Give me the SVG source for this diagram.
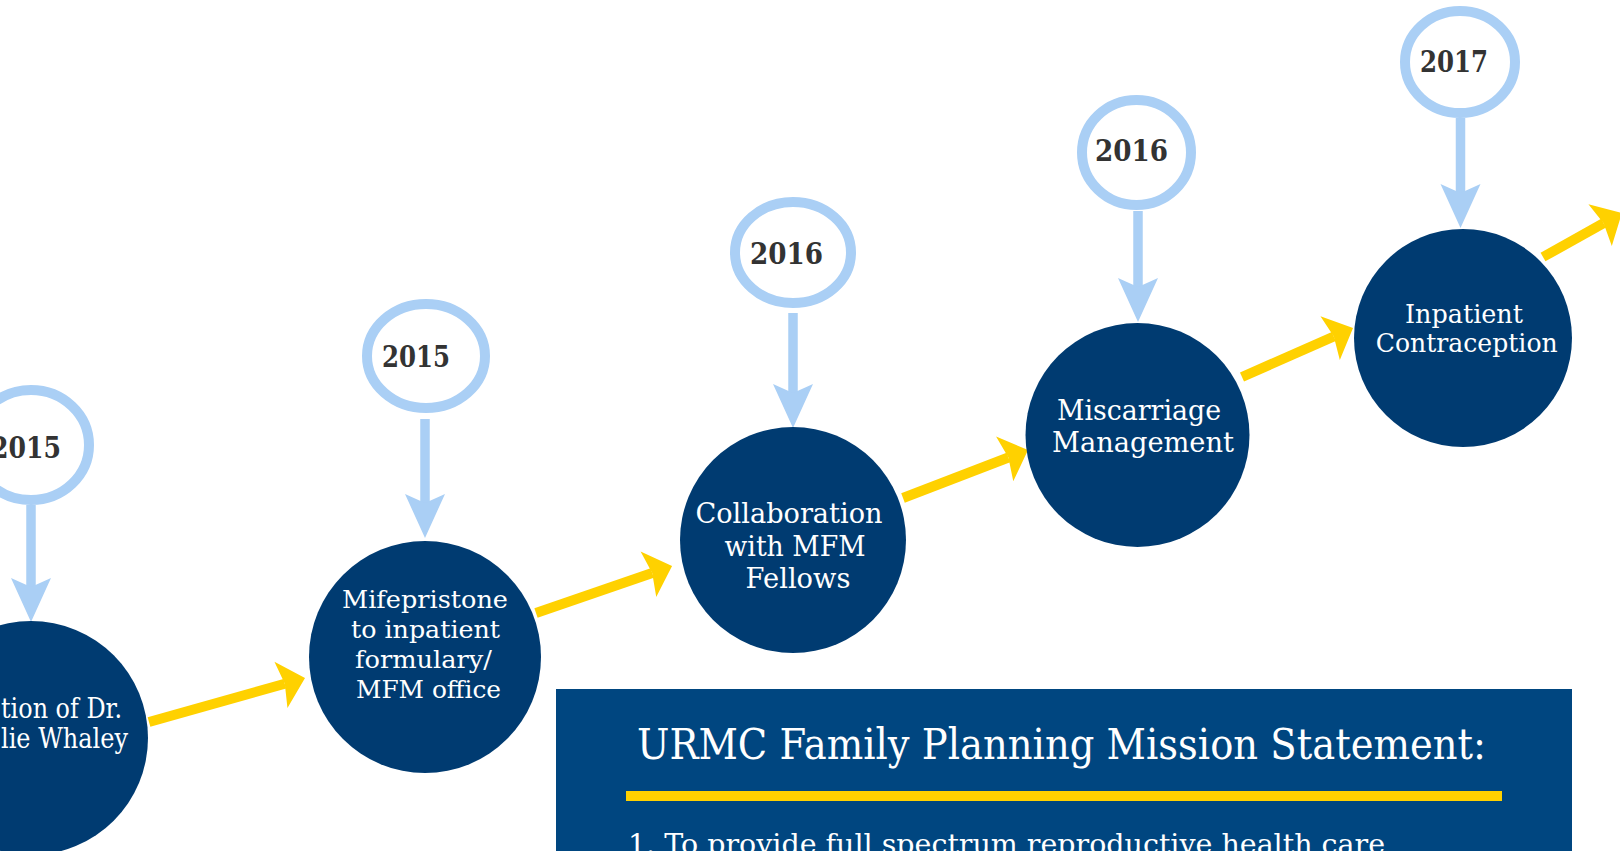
<svg xmlns="http://www.w3.org/2000/svg" width="1620" height="851" viewBox="0 0 1620 851">
<style>
.year{fill:#ffffff;stroke:#aacff5;stroke-width:10}
.ytxt{font-family:"DejaVu Serif","Liberation Serif",serif;font-weight:bold;font-size:29px;fill:#333333;text-anchor:middle}
.node{fill:#003b71}
.ntxt{font-family:"DejaVu Serif","Liberation Serif",serif;fill:#ffffff;text-anchor:middle}
.stem{stroke:#aacff5;stroke-width:9.5;fill:none;marker-end:url(#barrow)}
.flow{stroke:#ffd100;stroke-width:10;fill:none;marker-end:url(#yarrow)}
.btxt{font-family:"DejaVu Serif","Liberation Serif",serif;fill:#ffffff}
</style>
<defs>
<marker id="barrow" markerUnits="userSpaceOnUse" viewBox="-44 -20 44 40" markerWidth="44" markerHeight="40" refX="-35" refY="0" orient="auto" overflow="visible">
<path d="M0,0 L-44,-20 L-35,0 L-44,20 Z" fill="#aacff5"/>
</marker>
<marker id="yarrow" markerUnits="userSpaceOnUse" viewBox="-25 -24 25 48" markerWidth="25" markerHeight="48" refX="-21" refY="0" orient="auto" overflow="visible">
<path d="M0,0 L-25,-24 L-21,0 L-25,24 Z" fill="#ffd100"/>
</marker>
</defs>
<rect width="1620" height="851" fill="#ffffff"/>

<g id="connectors">
<path class="stem" d="M31,505 L31,587"/>
<path class="stem" d="M425,419 L425,503"/>
<path class="stem" d="M793,313 L793,393"/>
<path class="stem" d="M1138,211 L1138,287"/>
<path class="stem" d="M1460.5,118 L1460.5,193"/>
<path class="flow" d="M149,722 L284.8,683.7"/>
<path class="flow" d="M536,613 L652.2,572.9"/>
<path class="flow" d="M903,498 L1008.4,457.5"/>
<path class="flow" d="M1242,377 L1333.8,336.5"/>
<path class="flow" d="M1543,257 L1603.6,223.2"/>
</g>

<g id="year-2015a">
<ellipse class="year" cx="31" cy="445" rx="58" ry="55"/>
<text class="ytxt" x="26" y="458" textLength="70" lengthAdjust="spacingAndGlyphs">2015</text>
</g>
<g id="year-2015b">
<ellipse class="year" cx="426" cy="356" rx="59" ry="52"/>
<text class="ytxt" x="416" y="367" textLength="68" lengthAdjust="spacingAndGlyphs">2015</text>
</g>
<g id="year-2016a">
<ellipse class="year" cx="793" cy="252.5" rx="58" ry="50.5"/>
<text class="ytxt" x="786.5" y="264" textLength="73" lengthAdjust="spacingAndGlyphs">2016</text>
</g>
<g id="year-2016b">
<ellipse class="year" cx="1136.5" cy="152.5" rx="54.5" ry="52.5"/>
<text class="ytxt" x="1131.5" y="161" textLength="73" lengthAdjust="spacingAndGlyphs">2016</text>
</g>
<g id="year-2017">
<ellipse class="year" cx="1460" cy="62" rx="55" ry="51"/>
<text class="ytxt" x="1454" y="72" textLength="68" lengthAdjust="spacingAndGlyphs">2017</text>
</g>

<g id="node-whaley">
<circle class="node" cx="31" cy="738" r="117"/>
<text class="ntxt" style="text-anchor:start;font-size:27px" x="1" y="718" textLength="121" lengthAdjust="spacingAndGlyphs">tion of Dr.</text>
<text class="ntxt" style="text-anchor:start;font-size:27px" x="1" y="748" textLength="127" lengthAdjust="spacingAndGlyphs">lie Whaley</text>
</g>
<g id="node-mifepristone">
<circle class="node" cx="425" cy="657" r="116"/>
<text class="ntxt" font-size="25" x="425" y="608" textLength="166" lengthAdjust="spacingAndGlyphs">Mifepristone</text>
<text class="ntxt" font-size="25" x="425.5" y="638" textLength="149" lengthAdjust="spacingAndGlyphs">to inpatient</text>
<text class="ntxt" font-size="25" x="423.5" y="668" textLength="137" lengthAdjust="spacingAndGlyphs">formulary/</text>
<text class="ntxt" font-size="25" x="428.5" y="698" textLength="145" lengthAdjust="spacingAndGlyphs">MFM office</text>
</g>
<g id="node-collaboration">
<circle class="node" cx="793" cy="540" r="113"/>
<text class="ntxt" font-size="27" x="789" y="523" textLength="187" lengthAdjust="spacingAndGlyphs">Collaboration</text>
<text class="ntxt" font-size="27" x="795" y="556" textLength="141" lengthAdjust="spacingAndGlyphs">with MFM</text>
<text class="ntxt" font-size="27" x="798" y="588" textLength="105" lengthAdjust="spacingAndGlyphs">Fellows</text>
</g>
<g id="node-miscarriage">
<circle class="node" cx="1137.5" cy="435" r="112"/>
<text class="ntxt" font-size="27" x="1139" y="420" textLength="164" lengthAdjust="spacingAndGlyphs">Miscarriage</text>
<text class="ntxt" font-size="27" x="1143" y="452" textLength="182" lengthAdjust="spacingAndGlyphs">Management</text>
</g>
<g id="node-inpatient">
<circle class="node" cx="1463" cy="338" r="109"/>
<text class="ntxt" font-size="25.5" x="1464" y="323" textLength="118" lengthAdjust="spacingAndGlyphs">Inpatient</text>
<text class="ntxt" font-size="25.5" x="1466.7" y="352" textLength="182" lengthAdjust="spacingAndGlyphs">Contraception</text>
</g>

<g id="mission-box">
<rect x="556" y="689" width="1016" height="200" fill="#004680"/>
<text class="btxt" font-size="43" x="637" y="759" textLength="849" lengthAdjust="spacingAndGlyphs">URMC Family Planning Mission Statement:</text>
<rect x="626" y="791" width="876" height="10" fill="#ffd100"/>
<text class="btxt" font-size="27.5" x="628" y="854" textLength="757" lengthAdjust="spacingAndGlyphs">1. To provide full spectrum reproductive health care</text>
</g>
</svg>
